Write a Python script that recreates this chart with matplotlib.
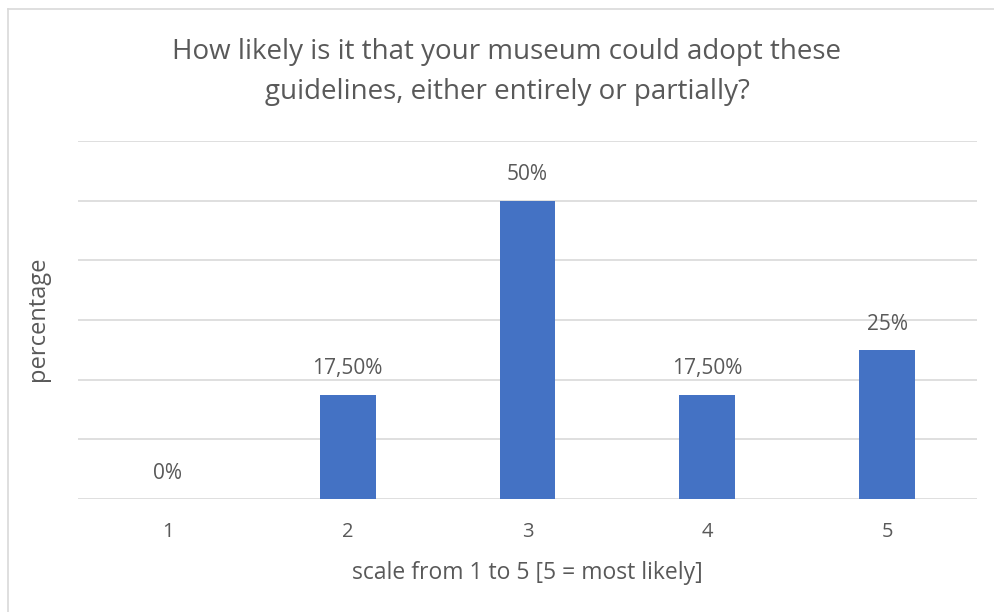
import matplotlib.pyplot as plt
from matplotlib.lines import Line2D

plt.rcParams['font.family'] = ['Open Sans', 'DejaVu Sans']

scale = [1, 2, 3, 4, 5]
share = [0.0, 17.5, 50.0, 17.5, 25.0]
labels = ['0%', '17,50%', '50%', '17,50%', '25%']

txtColor = '#595959'
barColor = '#4472C4'
gridColor = '#d9d9d9'

fig = plt.figure(figsize=(9.95, 6.12), dpi=100)
ax = fig.add_axes([78 / 995, 113 / 612, 899 / 995, 358 / 612])

ax.bar(scale, share, width=0.31, color=barColor, zorder=3)
for x, y, lab in zip(scale, share, labels):
    ax.annotate(lab, (x, y), xytext=(0, 11), textcoords='offset points',
                ha='center', va='bottom', fontsize=15, color=txtColor)

ax.set_xlim(0.5, 5.5)
ax.set_ylim(0, 60)
ax.set_yticks(range(0, 61, 10))
ax.yaxis.grid(True, color=gridColor, linewidth=1.2, zorder=0)
ax.tick_params(axis='y', left=False, labelleft=False)
ax.set_xticks(scale)
ax.tick_params(axis='x', bottom=False, labelsize=14.5, labelcolor=txtColor, pad=13)
for s in ax.spines.values():
    s.set_visible(False)

ax.set_xlabel('scale from 1 to 5 [5 = most likely]', fontsize=16.5, color=txtColor, labelpad=14)
fig.text(38 / 995, 1 - 319 / 612, 'percentage', rotation=90, ha='center', va='center',
         fontsize=17, color=txtColor)
fig.text(507 / 995, 1 - 72 / 612,
         'How likely is it that your museum could adopt these\nguidelines, either entirely or partially?',
         ha='center', va='center', fontsize=20, color=txtColor, linespacing=1.55)

# chart frame (only left and top edges visible)
fig.add_artist(Line2D([8 / 995, 8 / 995], [0, 1 - 9 / 612], color=gridColor, linewidth=1.2))
fig.add_artist(Line2D([8 / 995, 1], [1 - 9 / 612, 1 - 9 / 612], color=gridColor, linewidth=1.2))

plt.savefig('out.png', dpi=100)
